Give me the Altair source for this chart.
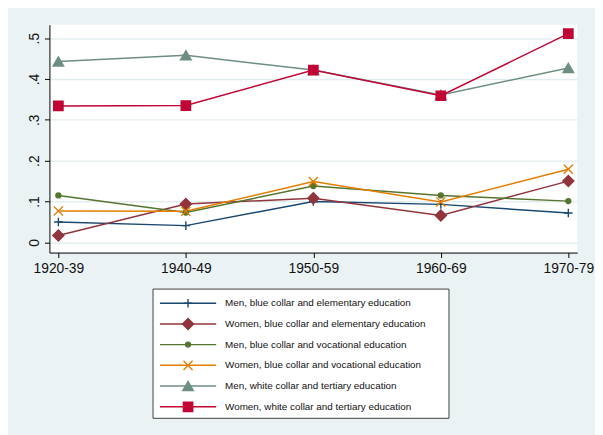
import altair as alt
import pandas as pd

cohorts = ["1920-39", "1940-49", "1950-59", "1960-69", "1970-79"]

series_names = [
    "Men, blue collar and elementary education",
    "Women, blue collar and elementary education",
    "Men, blue collar and vocational education",
    "Women, blue collar and vocational education",
    "Men, white collar and tertiary education",
    "Women, white collar and tertiary education",
]

men_blue_elem = [0.050, 0.041, 0.100, 0.093, 0.072]
women_blue_elem = [0.017, 0.094, 0.108, 0.066, 0.150]
men_blue_voc = [0.115, 0.073, 0.138, 0.115, 0.101]
women_blue_voc = [0.077, 0.076, 0.149, 0.099, 0.179]
men_white_tert = [0.443, 0.458, 0.422, 0.361, 0.427]
women_white_tert = [0.334, 0.335, 0.422, 0.359, 0.511]

series_values = [men_blue_elem, women_blue_elem, men_blue_voc,
                 women_blue_voc, men_white_tert, women_white_tert]

y_ticks = [0, 0.1, 0.2, 0.3, 0.4, 0.5]

# styles
series_colors = ["#1A476F", "#90353B", "#55752F", "#E37E00", "#6E8E84", "#C10534"]
series_shapes = ["M-1,0L1,0M0,-1L0,1", "diamond", "circle",
                 "M-1,-1L1,1M-1,1L1,-1", "triangle-up", "square"]
series_fills = ["transparent", "#90353B", "#55752F", "transparent", "#6E8E84", "#C10534"]
series_sizes = [75, 125, 25, 85, 115, 90]

rows = []
for name, vals in zip(series_names, series_values):
    for c, v in zip(cohorts, vals):
        rows.append({"series": name, "cohort": c, "value": v})
df = pd.DataFrame(rows)

legend_df = pd.DataFrame({"series": series_names, "row": list(range(len(series_names)))})
box_df = pd.DataFrame({"k": [0]})

FONT = "Liberation Sans"

x_enc = alt.X("cohort:N", sort=cohorts,
              scale=alt.Scale(type="point", domain=cohorts, padding=0.07),
              axis=alt.Axis(title=None, labelAngle=0, labelFontSize=14, labelFont=FONT,
                            labelColor="#111111", tickSize=5, labelPadding=4, grid=False,
                            domainColor="#000000", tickColor="#000000"))
y_scale = alt.Scale(domain=[-0.025, 0.533], nice=False, zero=False)
y_enc = alt.Y("value:Q", scale=y_scale,
              axis=alt.Axis(title=None, values=y_ticks, labelAngle=270,
                            labelExpr="datum.value == 0 ? '0' : replace(format(datum.value, '.1f'), '0.', '.')",
                            labelFontSize=14, labelFont=FONT, labelColor="#111111",
                            labelAlign="center", labelBaseline="bottom", labelPadding=3,
                            tickSize=5, grid=True, gridColor="#E4EEF0", gridWidth=1.5,
                            domainColor="#000000", tickColor="#000000"))

color_scale = alt.Scale(domain=series_names, range=series_colors)
shape_scale = alt.Scale(domain=series_names, range=series_shapes)
fill_scale = alt.Scale(domain=series_names, range=series_fills)
size_scale = alt.Scale(type="ordinal", domain=series_names, range=series_sizes)

lines = alt.Chart(df).mark_line(strokeWidth=1.5).encode(
    x=x_enc, y=y_enc,
    color=alt.Color("series:N", scale=color_scale, legend=None),
    order=alt.Order("cohort:N"),
)

points = alt.Chart(df).mark_point(opacity=1, strokeWidth=1.4).encode(
    x=x_enc,
    y=alt.Y("value:Q", scale=y_scale, axis=None),
    shape=alt.Shape("series:N", scale=shape_scale, legend=None),
    stroke=alt.Stroke("series:N", scale=color_scale, legend=None),
    fill=alt.Fill("series:N", scale=fill_scale, legend=None),
    size=alt.Size("series:N", scale=size_scale, legend=None),
)

box = alt.Chart(box_df).mark_rect(fill="white", stroke="#404040", strokeWidth=1).encode(
    x=alt.value(105), x2=alt.value(405), y=alt.value(268), y2=alt.value(399)
)

row_y = alt.Y("row:Q", scale=alt.Scale(domain=[0, 5], range=[282.3, 387.3]), axis=None)

leg_lines = alt.Chart(legend_df).mark_rule(strokeWidth=1.5).encode(
    x=alt.value(112), x2=alt.value(169), y=row_y,
    color=alt.Color("series:N", scale=color_scale, legend=None),
)
leg_points = alt.Chart(legend_df).mark_point(opacity=1, strokeWidth=1.4).encode(
    x=alt.value(140.5), y=row_y,
    shape=alt.Shape("series:N", scale=shape_scale, legend=None),
    stroke=alt.Stroke("series:N", scale=color_scale, legend=None),
    fill=alt.Fill("series:N", scale=fill_scale, legend=None),
    size=alt.Size("series:N", scale=size_scale, legend=None),
)
leg_text = alt.Chart(legend_df).mark_text(
    align="left", baseline="middle", font=FONT, fontSize=10, color="#111111"
).encode(x=alt.value(178), y=row_y, text="series:N")

chart = alt.layer(lines, points, box, leg_lines, leg_points, leg_text).resolve_scale(
    y="independent"
).properties(
    width=535, height=231,
    autosize=alt.AutoSizeParams(type="none"),
    padding={"left": 42, "top": 14, "right": 18, "bottom": 182},
    background="#EAF2F3",
).configure_view(fill="white", stroke=None)

chart.save("out.html", embed_options={"renderer": "svg", "actions": False})
